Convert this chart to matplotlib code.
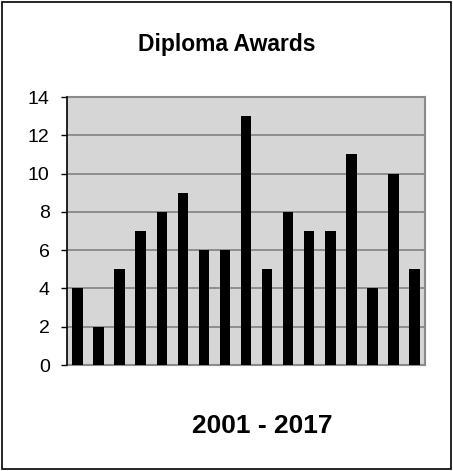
import matplotlib
matplotlib.use("Agg")
import matplotlib.pyplot as plt
from matplotlib.patches import Rectangle

plt.rcParams['font.family'] = ['Liberation Sans', 'DejaVu Sans']

## data
years = list(range(2001, 2018))
awards = [4, 2, 5, 7, 8, 9, 6, 6, 13, 5, 8, 7, 7, 11, 4, 10, 5]
yticks = [0, 2, 4, 6, 8, 10, 12, 14]

fig = plt.figure(figsize=(4.53, 4.71), dpi=100)
ax = fig.add_axes([67/453, 1 - 365/471, 358/453, 268/471])

pos = list(range(len(years)))
ax.bar(pos, awards, width=0.5, color='black', zorder=3)

ax.set_facecolor('#d6d6d6')
ax.set_xlim(-0.5, len(years) - 0.5)
ax.set_ylim(0, 14)
ax.set_yticks(yticks)
ax.tick_params(axis='y', labelsize=14, length=4.5, width=1, direction='out', pad=8)
ax.set_xticks([])
ax.yaxis.grid(True, color='#7a7a7a', linewidth=1.1, zorder=1)

for s in ['top', 'right', 'bottom']:
    ax.spines[s].set_color('#8a8a8a')
    ax.spines[s].set_linewidth(1.5)
ax.spines['left'].set_linewidth(1.2)
ax.spines['left'].set_zorder(4)

fig.text(0.5, 1 - 45/471, 'Diploma Awards', ha='center', va='center',
         fontsize=16.5, fontweight='bold')
fig.text(262/453, 1 - 426/471, '2001 - 2017', ha='center', va='center',
         fontsize=19, fontweight='bold')

# outer frame
fig.patches.append(Rectangle((2/453, 2/471), 1 - 4/453, 1 - 4/471,
                             transform=fig.transFigure, fill=False,
                             edgecolor='black', linewidth=1.2))

fig.savefig('out.png', dpi=100)
